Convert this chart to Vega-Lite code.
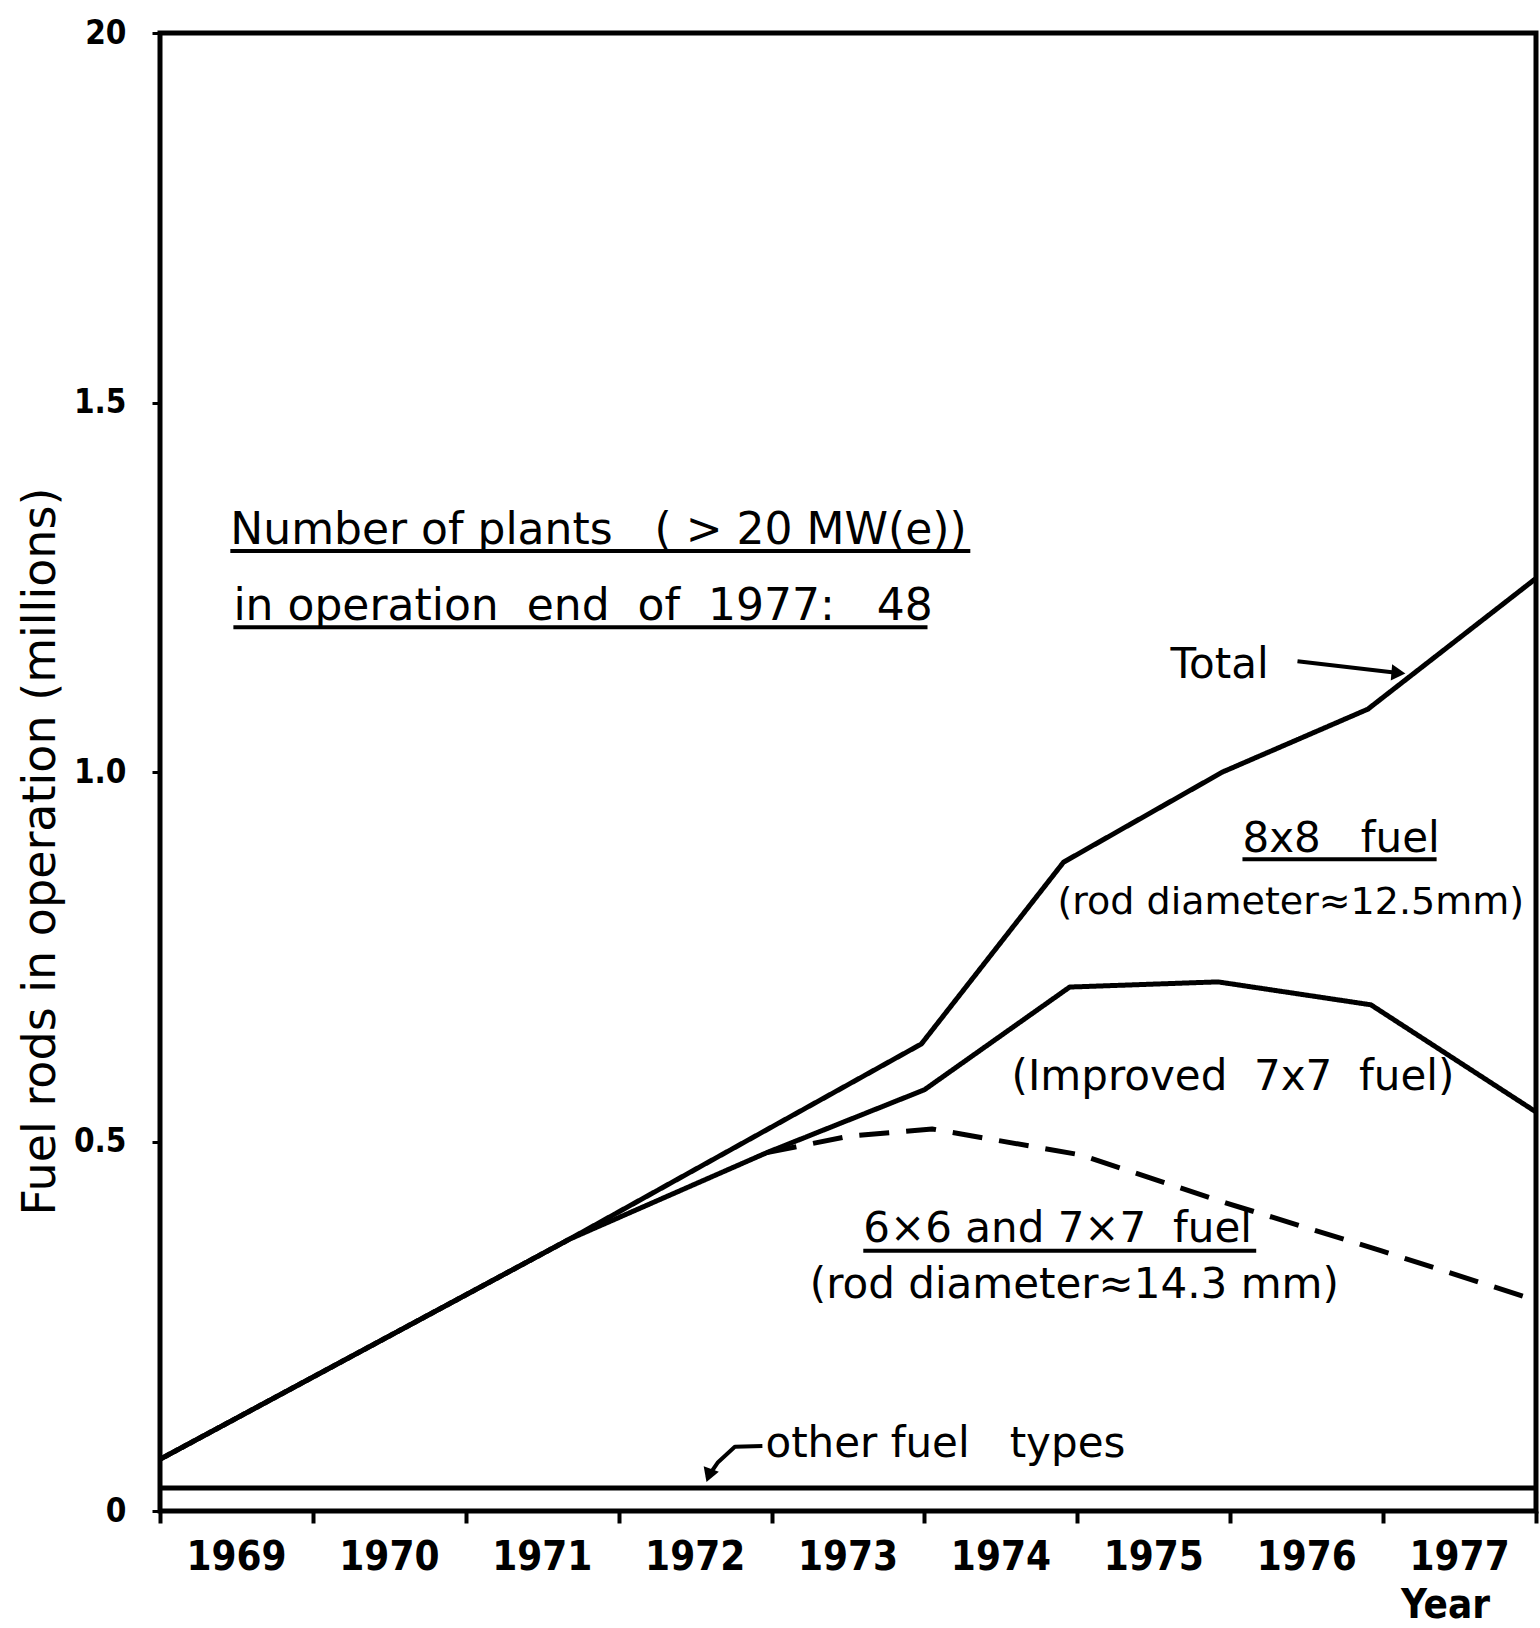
{
  "$schema": "https://vega.github.io/schema/vega-lite/v6.json",
  "width": 1376,
  "height": 1478,
  "autosize": {"type": "none"},
  "padding": {"left": 160, "top": 33, "right": 4, "bottom": 117},
  "background": "white",
  "config": {"view": {"stroke": "black", "strokeWidth": 5}, "font": "DejaVu Sans"},
  "datasets": {
    "lines": [
      {"series": "Total", "year": 1969.0, "value": 0.07},
      {"series": "Total", "year": 1971.68, "value": 0.368},
      {"series": "Total", "year": 1973.98, "value": 0.632},
      {"series": "Total", "year": 1974.91, "value": 0.878},
      {"series": "Total", "year": 1975.95, "value": 1.0},
      {"series": "Total", "year": 1976.9, "value": 1.085},
      {"series": "Total", "year": 1978.0, "value": 1.262},
      {"series": "Improved 7x7", "year": 1969.0, "value": 0.07},
      {"series": "Improved 7x7", "year": 1971.68, "value": 0.368},
      {"series": "Improved 7x7", "year": 1972.97, "value": 0.485},
      {"series": "Improved 7x7", "year": 1974.0, "value": 0.57},
      {"series": "Improved 7x7", "year": 1974.95, "value": 0.709},
      {"series": "Improved 7x7", "year": 1975.92, "value": 0.716},
      {"series": "Improved 7x7", "year": 1976.92, "value": 0.685},
      {"series": "Improved 7x7", "year": 1978.0, "value": 0.54},
      {"series": "6x6 and 7x7", "year": 1972.97, "value": 0.485},
      {"series": "6x6 and 7x7", "year": 1973.5, "value": 0.507},
      {"series": "6x6 and 7x7", "year": 1974.05, "value": 0.517},
      {"series": "6x6 and 7x7", "year": 1975.02, "value": 0.482},
      {"series": "6x6 and 7x7", "year": 1975.97, "value": 0.417},
      {"series": "6x6 and 7x7", "year": 1976.99, "value": 0.352},
      {"series": "6x6 and 7x7", "year": 1978.0, "value": 0.285},
      {"series": "Other fuel types", "year": 1969.0, "value": 0.031},
      {"series": "Other fuel types", "year": 1978.0, "value": 0.031}
    ],
    "arrows": [
      {"id": "total", "year": 1976.44, "value": 1.15},
      {"id": "total", "year": 1977.1, "value": 1.134},
      {"id": "other", "year": 1972.58, "value": 0.045},
      {"id": "other", "year": 1972.65, "value": 0.066},
      {"id": "other", "year": 1972.76, "value": 0.087},
      {"id": "other", "year": 1972.94, "value": 0.088}
    ],
    "heads": [
      {"id": "total", "year": 1977.1, "value": 1.134},
      {"id": "other", "year": 1972.59, "value": 0.048}
    ],
    "underlines": [
      {"year": 1969.46, "year2": 1974.3, "value": 1.299},
      {"year": 1969.48, "year2": 1974.02, "value": 1.196},
      {"year": 1976.08, "year2": 1977.35, "value": 0.882},
      {"year": 1973.6, "year2": 1976.17, "value": 0.352}
    ],
    "notes": [
      {"group": "header", "year": 1969.46, "value": 1.309, "text": "Number of plants\u00a0\u00a0\u00a0( > 20 MW(e))"},
      {"group": "header", "year": 1969.48, "value": 1.206, "text": "in operation\u00a0\u00a0end\u00a0\u00a0of\u00a0\u00a01977:\u00a0\u00a0\u00a048"},
      {"group": "label", "year": 1975.61, "value": 1.127, "text": "Total"},
      {"group": "label", "year": 1976.08, "value": 0.892, "text": "8x8\u00a0\u00a0\u00a0fuel"},
      {"group": "small", "year": 1974.87, "value": 0.808, "text": "(rod diameter≈12.5mm)"},
      {"group": "label", "year": 1974.57, "value": 0.57, "text": "(Improved\u00a0\u00a07x7\u00a0\u00a0fuel)"},
      {"group": "label", "year": 1973.6, "value": 0.364, "text": "6×6 and 7×7\u00a0\u00a0fuel"},
      {"group": "label", "year": 1973.25, "value": 0.288, "text": "(rod diameter≈14.3 mm)"},
      {"group": "label", "year": 1972.96, "value": 0.073, "text": "other fuel\u00a0\u00a0\u00a0types"}
    ]
  },
  "layer": [
    {
      "data": {"name": "lines"},
      "mark": {"type": "line", "color": "black", "strokeWidth": 5, "strokeJoin": "round", "strokeCap": "butt"},
      "encoding": {
        "x": {
          "field": "year", "type": "quantitative",
          "scale": {"domain": [1969, 1978], "nice": false, "zero": false},
          "axis": {
            "values": [1969, 1970, 1971, 1972, 1973, 1974, 1975, 1976, 1977, 1978],
            "format": "d",
            "labelExpr": "datum.value >= 1978 ? '' : datum.label",
            "labelOffset": 76,
            "labelPadding": 14,
            "labelFont": "Liberation Sans Narrow, DejaVu Sans Condensed, DejaVu Sans",
            "labelFontSize": 40,
            "labelFontWeight": "bold",
            "labelColor": "black",
            "labelFlush": false,
            "labelOverlap": false,
            "labelBound": false,
            "tickSize": 12,
            "tickWidth": 4,
            "tickColor": "black",
            "domain": false,
            "grid": false,
            "title": "Year",
            "titleX": 1285,
            "titleY": 106,
            "titleAlign": "center",
            "titleBaseline": "alphabetic",
            "titleFont": "Liberation Sans Narrow, DejaVu Sans Condensed, DejaVu Sans",
            "titleFontSize": 40,
            "titleFontWeight": "bold",
            "titleColor": "black"
          }
        },
        "y": {
          "field": "value", "type": "quantitative",
          "scale": {"domain": [0, 2], "nice": false},
          "axis": {
            "values": [0, 0.5, 1, 1.5, 2],
            "labelExpr": "datum.value == 2 ? '20' : datum.value == 0 ? '0' : format(datum.value, '.1f')",
            "labelFont": "Liberation Sans Narrow, DejaVu Sans Condensed, DejaVu Sans",
            "labelFontSize": 33,
            "labelFontWeight": "bold",
            "labelColor": "black",
            "labelPadding": 26,
            "tickSize": 8,
            "tickWidth": 3,
            "tickColor": "black",
            "domain": false,
            "grid": false,
            "title": "Fuel rods in operation (millions)",
            "titleX": -120,
            "titleY": 818,
            "titleAngle": 270,
            "titleAlign": "center",
            "titleBaseline": "middle",
            "titleFont": "DejaVu Sans",
            "titleFontSize": 46,
            "titleFontWeight": "normal",
            "titleColor": "black"
          }
        },
        "detail": {"field": "series", "type": "nominal"},
        "strokeDash": {
          "field": "series", "type": "nominal",
          "scale": {"domain": ["Total", "Improved 7x7", "6x6 and 7x7", "Other fuel types"], "range": [[1, 0], [1, 0], [30, 17], [1, 0]]},
          "legend": null
        }
      }
    },
    {
      "data": {"name": "arrows"},
      "mark": {"type": "line", "color": "black", "strokeWidth": 4, "strokeJoin": "round"},
      "encoding": {
        "x": {"field": "year", "type": "quantitative"},
        "y": {"field": "value", "type": "quantitative"},
        "detail": {"field": "id", "type": "nominal"}
      }
    },
    {
      "data": {"name": "heads"},
      "transform": [{"filter": "datum.id == 'total'"}],
      "mark": {"type": "point", "shape": "triangle-right", "filled": true, "color": "black", "size": 260, "opacity": 1, "angle": 5},
      "encoding": {
        "x": {"field": "year", "type": "quantitative"},
        "y": {"field": "value", "type": "quantitative"}
      }
    },
    {
      "data": {"name": "heads"},
      "transform": [{"filter": "datum.id == 'other'"}],
      "mark": {"type": "point", "shape": "triangle-down", "filled": true, "color": "black", "size": 260, "opacity": 1, "angle": 20},
      "encoding": {
        "x": {"field": "year", "type": "quantitative"},
        "y": {"field": "value", "type": "quantitative"}
      }
    },
    {
      "data": {"name": "underlines"},
      "mark": {"type": "rule", "color": "black", "strokeWidth": 4},
      "encoding": {
        "x": {"field": "year", "type": "quantitative"},
        "x2": {"field": "year2"},
        "y": {"field": "value", "type": "quantitative"}
      }
    },
    {
      "data": {"name": "notes"},
      "transform": [{"filter": "datum.group == 'header'"}],
      "mark": {"type": "text", "align": "left", "baseline": "alphabetic", "font": "DejaVu Sans", "fontSize": 44, "color": "black"},
      "encoding": {
        "x": {"field": "year", "type": "quantitative"},
        "y": {"field": "value", "type": "quantitative"},
        "text": {"field": "text"}
      }
    },
    {
      "data": {"name": "notes"},
      "transform": [{"filter": "datum.group == 'label'"}],
      "mark": {"type": "text", "align": "left", "baseline": "alphabetic", "font": "DejaVu Sans", "fontSize": 42, "color": "black"},
      "encoding": {
        "x": {"field": "year", "type": "quantitative"},
        "y": {"field": "value", "type": "quantitative"},
        "text": {"field": "text"}
      }
    },
    {
      "data": {"name": "notes"},
      "transform": [{"filter": "datum.group == 'small'"}],
      "mark": {"type": "text", "align": "left", "baseline": "alphabetic", "font": "DejaVu Sans", "fontSize": 38, "color": "black"},
      "encoding": {
        "x": {"field": "year", "type": "quantitative"},
        "y": {"field": "value", "type": "quantitative"},
        "text": {"field": "text"}
      }
    }
  ]
}
